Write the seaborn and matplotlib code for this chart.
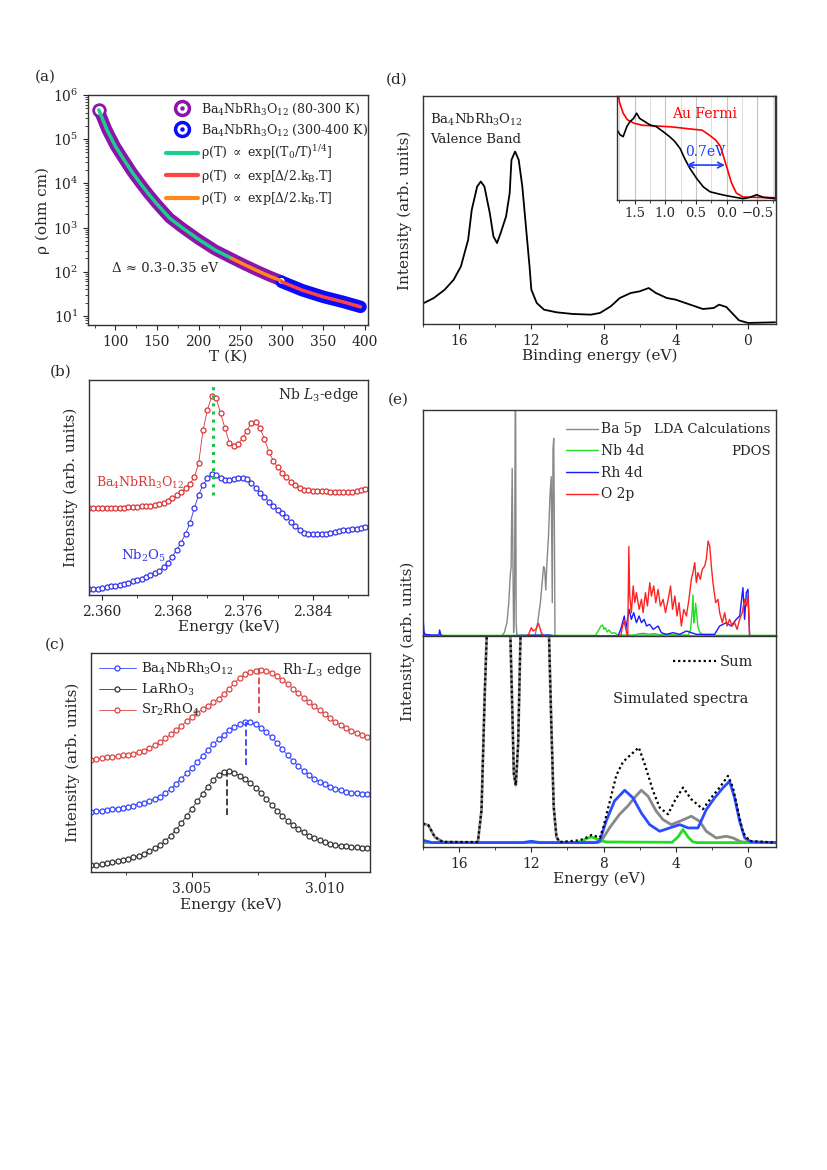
import numpy as np
import matplotlib
matplotlib.use("Agg")
import matplotlib.pyplot as plt
import seaborn as sns
from matplotlib.lines import Line2D
from matplotlib.ticker import MultipleLocator

# ---------------- data: (a) resistivity ----------------
T_low = [80, 90, 100, 110, 120, 130, 140, 150, 165, 180, 200, 220, 240, 255, 270, 285, 300]
rho_low = [4.6e5, 1.6e5, 6.9e4, 3.5e4, 1.8e4, 1.0e4, 5.7e3, 3.4e3, 1.65e3, 1.0e3,
           540, 310, 200, 145, 107, 80, 62]
T_high = [300, 325, 350, 375, 395]
rho_high = [59, 38, 27, 20.5, 16]
T_vrh_max = 240   # green fit range 80-240 K, orange 240-300 K, red 300-400 K

# ---------------- data: (b) Nb L3 edge ----------------
E_nb = np.round(np.linspace(2.3585, 2.3900, 64), 5)
I_ba_nb = [260, 260, 260, 261, 261, 261, 262, 262, 262, 263, 264, 265, 266, 267, 268, 270,
           273, 277, 283, 290, 299, 308, 320, 333, 353, 395, 495, 555, 597, 590, 545, 500,
           457, 447, 452, 470, 493, 515, 520, 500, 467, 430, 403, 383, 367, 353, 340, 329,
           321, 316, 314, 313, 312, 312, 311, 310, 309, 309, 308, 308, 309, 311, 314, 317]
I_nb2o5 = [17, 18, 19, 21, 23, 26, 28, 31, 34, 37, 41, 45, 49, 53, 59, 65,
           73, 83, 97, 115, 135, 157, 183, 215, 260, 300, 330, 350, 363, 360, 350, 345,
           345, 347, 350, 350, 347, 337, 320, 305, 293, 280, 267, 255, 245, 235, 220, 207,
           195, 187, 183, 182, 182, 182, 183, 185, 189, 193, 195, 195, 197, 199, 202, 205]
nb_peak_E = 2.37265
nb_peak_span = [300, 635]

# ---------------- data: (c) Rh L3 edge ----------------
E_rh = np.round(np.linspace(3.0012, 3.0116, 53), 5)
I_ba_rh = [182, 183, 185, 187, 189, 191, 194, 197, 200, 204, 208, 213, 220, 227, 237, 250,
           265, 281, 297, 313, 331, 350, 367, 384, 399, 413, 426, 437, 445, 451, 451, 444,
           433, 420, 405, 388, 369, 352, 335, 319, 305, 292, 281, 272, 264, 257, 251, 246,
           242, 239, 237, 235, 234]
I_larho = [20, 22, 24, 26, 29, 32, 35, 39, 44, 49, 54, 62, 71, 81, 93, 109,
           127, 147, 169, 191, 213, 235, 257, 277, 292, 301, 304, 298, 289, 279, 267, 254,
           237, 220, 202, 185, 169, 154, 141, 129, 119, 109, 101, 95, 89, 85, 82, 79,
           77, 75, 74, 73, 72]
I_sr2rho4 = [337, 339, 342, 345, 347, 349, 351, 353, 356, 360, 365, 372, 381, 391, 402, 414,
             427, 440, 453, 467, 479, 490, 500, 511, 522, 535, 552, 569, 584, 595, 602, 606,
             607, 605, 600, 591, 579, 566, 552, 539, 525, 511, 498, 486, 474, 462, 452, 442,
             433, 425, 418, 412, 406]
rh_peak_E = [3.00705, 3.00632, 3.00753]
rh_peak_lo = [322, 172, 479]
rh_peak_hi = [452, 302, 617]

# ---------------- data: (d) valence band ----------------
E_vb = [17.95, 17.4, 16.8, 16.3, 15.9, 15.7, 15.5, 15.3, 15.0, 14.8, 14.6, 14.3, 14.1, 13.9,
        13.7, 13.4, 13.2, 13.1, 12.9, 12.7, 12.5, 12.3, 12.1, 12.0, 11.7, 11.3, 10.6, 9.7,
        8.7, 8.2, 7.6, 7.1, 6.5, 6.0, 5.5, 5.1, 4.5, 4.0, 3.2, 2.5, 1.9, 1.6, 1.2, 0.8, 0.5,
        0.0, -1.5]
I_vb = [63, 78, 103, 133, 173, 213, 253, 343, 413, 428, 413, 333, 263, 243,
        273, 323, 393, 493, 518, 493, 413, 293, 173, 103, 63, 43, 35, 30,
        28, 33, 53, 78, 93, 98, 108, 93, 78, 73, 58, 45, 48, 58, 51, 28, 11,
        3, 5]
E_au = [1.79, 1.75, 1.69, 1.62, 1.51, 1.37, 1.16, 0.89, 0.61, 0.40, 0.29, 0.18, 0.10, 0.0,
        -0.08, -0.16, -0.27, -0.47, -0.79]
I_au = [345, 300, 266, 246, 235, 229, 227, 224, 218, 214, 200, 184, 164, 102,
        52, 21, 9, 8, 7]
E_vbz = [1.79, 1.74, 1.69, 1.63, 1.58, 1.52, 1.47, 1.42, 1.36, 1.25, 1.15, 1.04, 0.93, 0.85,
         0.76, 0.68, 0.60, 0.49, 0.38, 0.27, 0.12, 0.0, -0.15, -0.27, -0.38, -0.49, -0.60,
         -0.71, -0.79]
I_vbz = [215, 200, 194, 225, 240, 250, 266, 250, 243, 230, 225, 210, 194, 180,
         158, 125, 97, 66, 40, 25, 18, 13, 8, 4, 8, 16, 8,
         6, 4]
gap_from, gap_to, gap_level = 0.654, 0.027, 107

# ---------------- data: (e) PDOS ----------------
E_ba5p = [18.0, 13.65, 13.5, 13.35, 13.25, 13.17, 13.12, 13.06, 13.02, 12.98, 12.93, 12.88,
          12.84, 12.8, 11.8, 11.65, 11.5, 11.4, 11.32, 11.26, 11.2, 11.14, 11.05, 10.97,
          10.9, 10.84, 10.8, 10.76, 10.72, 10.69, 6.4, 6.1, 5.8, 5.5, 5.2, 4.8, 4.4, 4.0,
          3.0, -1.55]
D_ba5p = [0, 0, 10, 40, 100, 180, 208, 503, 220, 10, 120, 900,
          40, 0, 0, 40, 100, 160, 208, 200, 138, 215, 300, 418,
          478, 100, 560, 593, 300, 0, 0, 6, 8, 5, 7, 3, 5, 2,
          0, 0]
E_nb4d = [18.0, 8.45, 8.3, 8.15, 8.06, 7.98, 7.9, 7.8, 7.7, 7.55, 7.4, 7.2, 3.3, 3.18, 3.1,
          3.05, 3.0, 2.95, 2.9, 2.85, 2.78, 2.7, 2.55, 2.4, -1.55]
D_nb4d = [2, 2, 15, 30, 33, 20, 25, 12, 18, 8, 10, 3, 3, 20, 70,
          123, 40, 60, 98, 70, 30, 15, 5, 2, 2]
E_rh4d = [18.0, 17.95, 17.9, 17.5, 17.12, 17.08, 17.02, 16.9, 13.5, 12.6, 11.0, 10.7, 7.2,
          7.05, 6.95, 6.85, 6.77, 6.58, 6.46, 6.33, 6.18, 6.03, 5.9, 5.75, 5.62, 5.45, 5.25,
          4.98, 4.8, 4.52, 4.15, 3.78, 3.41, 3.14, 2.86, 2.31, 1.85, 1.57, 1.2, 0.93, 0.65,
          0.46, 0.28, 0.19, 0.09, 0.0, -0.09, -1.55]
D_rh4d = [58, 15, 5, 3, 3, 18, 5, 0, 0, 2, 3, 0, 0,
          20, 40, 60, 20, 80, 50, 70, 40, 60, 40, 50, 30, 35, 20,
          30, 10, 5, 10, 5, 15, 10, 5, 5, 5, 30, 40, 30, 50,
          60, 145, 50, 130, 140, 0, 0]
E_o2p = [18.0, 12.3, 12.15, 12.0, 11.9, 11.75, 11.6, 11.45, 11.3, 7.2, 7.05, 6.95, 6.85,
         6.72, 6.66, 6.6, 6.55, 6.46, 6.36, 6.27, 6.18, 6.03, 5.90, 5.81, 5.68, 5.57, 5.44,
         5.35, 5.22, 5.11, 4.98, 4.85, 4.70, 4.57, 4.42, 4.29, 4.18, 4.05, 3.93, 3.82, 3.69,
         3.56, 3.41, 3.27, 3.14, 3.05, 2.95, 2.86, 2.77, 2.64, 2.53, 2.40, 2.31, 2.21, 2.12,
         2.03, 1.94, 1.79, 1.66, 1.57, 1.42, 1.29, 1.16, 1.02, 0.87, 0.74, 0.61, 0.46, 0.32,
         0.19, 0.09, 0.0, -0.09, -1.55]
D_o2p = [0, 0, 5, 25, 15, 20, 38, 10, 0, 0, 0, 28, 48,
         8, 0, 268, 120, 70, 150, 100, 130, 80, 110, 70, 130, 90, 160,
         120, 150, 100, 140, 90, 110, 70, 110, 150, 80, 120, 60, 100, 30,
         80, 60, 110, 170, 190, 220, 160, 190, 170, 200, 210, 230, 285, 270,
         210, 160, 100, 110, 70, 40, 70, 30, 50, 30, 40, 20, 50, 70,
         110, 90, 120, 0, 0]

# ---------------- data: (e) simulated spectra ----------------
E_sum = [18.0, 17.7, 17.35, 16.9, 15.0, 14.95, 14.76, 14.58, 14.43, 14.2, 13.5, 13.16, 13.05,
         12.97, 12.86, 12.73, 12.6, 12.3, 11.3, 11.02, 10.89, 10.76, 10.61, 10.43, 9.32, 8.95,
         8.67, 8.3, 8.21, 8.03, 7.66, 7.29, 6.92, 6.46, 6.05, 5.72, 5.26, 4.89, 4.43, 4.06,
         3.6, 3.14, 2.5, 2.03, 1.57, 1.11, 0.83, 0.55, 0.28, -0.09, -1.55]
S_sum = [70, 65, 30, 15, 15, 20, 110, 460, 700, 1000, 1000, 632, 400,
         220, 185, 310, 632, 1000, 1000, 632, 360, 120, 30, 15, 20, 28,
         36, 30, 28, 55, 135, 215, 255, 278, 298, 248, 168, 118, 98, 138,
         178, 143, 113, 148, 178, 213, 178, 108, 43, 18, 13]
E_ba_sim = [18.0, 17.7, 17.35, 16.9, 15.0, 14.95, 14.76, 14.58, 14.43, 14.2, 13.5, 13.16, 13.05,
            12.97, 12.86, 12.73, 12.6, 12.3, 11.3, 11.02, 10.89, 10.76, 10.61, 10.43, 8.3, 8.12,
            7.66, 7.11, 6.65, 6.28, 5.91, 5.54, 5.08, 4.71, 4.25, 3.78, 3.14, 2.68, 2.31, 1.76,
            1.2, 0.83, 0.37, -1.55]
S_ba_sim = [70, 65, 30, 15, 13, 20, 110, 460, 700, 1000, 1000, 632, 400,
            220, 185, 310, 632, 1000, 1000, 632, 360, 120, 30, 13, 13, 18,
            58, 98, 123, 148, 170, 152, 107, 82, 67, 77, 92, 77, 47, 27,
            32, 27, 15, 13]
E_rh_sim = [18.0, 17.5, 12.5, 12.0, 11.5, 8.5, 8.21, 7.85, 7.39, 6.83, 6.37, 5.91, 5.45, 4.89,
            4.34, 3.78, 3.32, 2.77, 2.31, 1.85, 1.39, 1.02, 0.74, 0.46, 0.18, -0.18, -1.55]
S_rh_sim = [20, 13, 13, 17, 13, 13, 18, 78, 138, 170, 147, 102, 67, 47,
            57, 67, 57, 57, 112, 147, 177, 197, 147, 77, 27, 15, 13]
E_nb_sim = [18.0, 9.5, 9.14, 8.95, 8.67, 8.4, 8.21, 7.85, 4.2, 3.88, 3.6, 3.32, 3.05, 2.8, -1.55]
S_nb_sim = [13, 13, 18, 25, 30, 25, 20, 15, 14, 30, 52, 30, 15, 13, 13]

# ---------------- style ----------------
sns.set_style("ticks")
plt.rcParams['font.family'] = ['DejaVu Serif', 'DejaVu Sans']
plt.rcParams['mathtext.fontset'] = 'dejavuserif'
plt.rcParams['font.size'] = 10
plt.rcParams['xtick.direction'] = 'out'
plt.rcParams['ytick.direction'] = 'out'
plt.rcParams['axes.edgecolor'] = '#333333'
plt.rcParams['axes.linewidth'] = 1.0

BA = 'Ba$_4$NbRh$_3$O$_{12}$'
fig = plt.figure(figsize=(8.27, 11.7), dpi=100)


def fx(px):
    return px / 827


def fy(py):
    return 1 - py / 1170


# ---------------- (a) ----------------
purple, blue_a = '#8c14aa', '#0a0aff'
green_a, red_a, orange_a = '#1ccf8a', '#ff4444', '#ff8a1a'
ax = fig.add_axes([0.1064, 0.7222, 0.3386, 0.1966])
sns.lineplot(x=T_low, y=rho_low, color=purple, lw=8, ax=ax, sort=False, estimator=None,
             solid_capstyle='round', zorder=2)
sns.lineplot(x=T_high, y=rho_high, color=blue_a, lw=9, ax=ax, sort=False, estimator=None,
             solid_capstyle='round', zorder=2)
ax.scatter(T_low[0], rho_low[0], s=70, facecolor='white', edgecolor=purple, lw=2, zorder=3)
ax.scatter(T_low[-1], rho_low[-1], s=18, facecolor='white', edgecolor='none', zorder=3)
i_fit = T_low.index(T_vrh_max)
sns.lineplot(x=T_low[:i_fit + 1], y=rho_low[:i_fit + 1], color=green_a, lw=2.5, ax=ax,
             sort=False, estimator=None, zorder=4)
sns.lineplot(x=T_low[i_fit:], y=rho_low[i_fit:], color=orange_a, lw=2.5, ax=ax,
             sort=False, estimator=None, zorder=4)
sns.lineplot(x=T_high, y=rho_high, color=red_a, lw=2.5, ax=ax, sort=False, estimator=None,
             zorder=4)
ax.set_yscale('log')
ax.set_xlim(67, 404)
ax.set_ylim(6.2, 1e6)
ax.xaxis.set_major_locator(MultipleLocator(50))
ax.xaxis.set_minor_locator(MultipleLocator(25))
ax.set_xlabel('T (K)', fontsize=11, labelpad=1)
ax.set_ylabel('ρ (ohm cm)', fontsize=11, labelpad=2)
ax.tick_params(labelsize=10)
ax.text(0.086, 0.23, 'Δ ≈ 0.3-0.35 eV', transform=ax.transAxes, fontsize=9.5)


def ring(c):
    return (Line2D([], [], ls='none', marker='o', ms=10, mfc='white', mec=c, mew=2.5),
            Line2D([], [], ls='none', marker='o', ms=2.2, color=c))


handles = [ring(purple), ring(blue_a),
           Line2D([], [], color=green_a, lw=3), Line2D([], [], color=red_a, lw=3),
           Line2D([], [], color=orange_a, lw=3)]
labels = [BA + ' (80-300 K)', BA + ' (300-400 K)',
          r'ρ(T) $\propto$ exp[(T$_0$/T)$^{1/4}$]',
          r'ρ(T) $\propto$ exp[Δ/2.k$_{\rm B}$.T]',
          r'ρ(T) $\propto$ exp[Δ/2.k$_{\rm B}$.T]']
ax.legend(handles, labels, loc='upper right', bbox_to_anchor=(1.04, 1.02), frameon=False,
          fontsize=9, handlelength=2.6, handletextpad=0.2, labelspacing=0.45)
fig.text(fx(45), fy(77), '(a)', fontsize=11, ha='center', va='center')

# ---------------- (b) ----------------
red_b, blue_b = '#dd3333', '#3333ee'
ax = fig.add_axes([0.1076, 0.4915, 0.3374, 0.1838])
mk = dict(marker='o', ms=3.6, mfc='white', mew=0.9, lw=0.6)
sns.lineplot(x=E_nb, y=I_ba_nb, color=red_b, mec=red_b, ax=ax, sort=False, estimator=None, **mk)
sns.lineplot(x=E_nb, y=I_nb2o5, color=blue_b, mec=blue_b, ax=ax, sort=False, estimator=None, **mk)
ax.plot([nb_peak_E, nb_peak_E], nb_peak_span, ls=':', color='#22c24a', lw=2.2, zorder=5)
ax.set_xlim(2.3585, 2.3903)
ax.set_ylim(0, 645)
ax.set_yticks([])
ax.xaxis.set_major_locator(MultipleLocator(0.008))
ax.xaxis.set_minor_locator(MultipleLocator(0.004))
ax.xaxis.set_major_formatter(matplotlib.ticker.FormatStrFormatter('%.3f'))
ax.tick_params(labelsize=10)
ax.set_xlabel('Energy (keV)', fontsize=11, labelpad=1)
ax.set_ylabel('Intensity (arb. units)', fontsize=11, labelpad=8)
ax.text(0.97, 0.93, 'Nb $L_3$-edge', transform=ax.transAxes, ha='right', va='center', fontsize=10)
ax.text(0.025, 0.52, BA, transform=ax.transAxes, color=red_b, fontsize=9, va='center')
ax.text(0.115, 0.18, 'Nb$_2$O$_5$', transform=ax.transAxes, color=blue_b, fontsize=9.5, va='center')
fig.text(fx(61), fy(372), '(b)', fontsize=11, ha='center', va='center')

# ---------------- (c) ----------------
blue_c, black_c, red_c = '#3344ff', '#333333', '#dd4444'
ax = fig.add_axes([0.1100, 0.2547, 0.3374, 0.1872])
series_c = [(I_ba_rh, blue_c, BA), (I_larho, black_c, 'LaRhO$_3$'), (I_sr2rho4, red_c, 'Sr$_2$RhO$_4$')]
for vals, c, lab in series_c:
    sns.lineplot(x=E_rh, y=vals, color=c, mec=c, ax=ax, sort=False, estimator=None,
                 label=lab, **mk)
for e, lo, hi, c in zip(rh_peak_E, rh_peak_lo, rh_peak_hi, [blue_c, black_c, red_c]):
    ax.plot([e, e], [lo, hi], ls='--', color=c, lw=1.3, zorder=5)
ax.set_xlim(3.0012, 3.0117)
ax.set_ylim(0, 659)
ax.set_yticks([])
ax.xaxis.set_major_locator(MultipleLocator(0.005))
ax.xaxis.set_minor_locator(MultipleLocator(0.0025))
ax.xaxis.set_major_formatter(matplotlib.ticker.FormatStrFormatter('%.3f'))
ax.tick_params(labelsize=10)
ax.set_xlabel('Energy (keV)', fontsize=11, labelpad=1)
ax.set_ylabel('Intensity (arb. units)', fontsize=11, labelpad=8)
ax.legend(loc='upper left', frameon=False, fontsize=9.5, handlelength=2.8,
          handletextpad=0.4, labelspacing=0.35, borderaxespad=0.2)
ax.text(0.97, 0.92, 'Rh-$L_3$ edge', transform=ax.transAxes, ha='right', va='center', fontsize=10)
fig.text(fx(55), fy(645), '(c)', fontsize=11, ha='center', va='center')

# ---------------- (d) ----------------
ax = fig.add_axes([0.5115, 0.7231, 0.4268, 0.1949])
sns.lineplot(x=E_vb, y=I_vb, color='black', lw=1.3, ax=ax, sort=False, estimator=None)
ax.set_xlim(18, -1.55)
ax.set_ylim(0, 685)
ax.set_yticks([])
ax.xaxis.set_major_locator(MultipleLocator(4))
ax.xaxis.set_minor_locator(MultipleLocator(2))
ax.tick_params(labelsize=10)
ax.set_xlabel('Binding energy (eV)', fontsize=11, labelpad=1)
ax.set_ylabel('Intensity (arb. units)', fontsize=11, labelpad=8)
ax.text(0.02, 0.895, BA, transform=ax.transAxes, fontsize=9.5, va='center')
ax.text(0.02, 0.81, 'Valence Band', transform=ax.transAxes, fontsize=9.5, va='center')
fig.text(fx(397), fy(80), '(d)', fontsize=11, ha='center', va='center')

axi = fig.add_axes([0.7461, 0.8291, 0.191, 0.0889])
axi.xaxis.set_major_locator(MultipleLocator(0.5))
axi.xaxis.set_minor_locator(MultipleLocator(0.25))
axi.grid(True, which='major', axis='x', color='#c4c4c4', lw=0.8)
axi.grid(True, which='minor', axis='x', color='#dedede', lw=0.7)
sns.lineplot(x=E_au, y=I_au, color='#ff0000', lw=1.2, ax=axi, sort=False, estimator=None)
sns.lineplot(x=E_vbz, y=I_vbz, color='black', lw=1.2, ax=axi, sort=False, estimator=None)
axi.annotate('', xy=(gap_to, gap_level), xytext=(gap_from, gap_level),
             arrowprops=dict(arrowstyle='<->', color='#1a3cff', lw=1.2, shrinkA=0, shrinkB=0))
axi.text(0.35, gap_level + 18, '0.7eV', color='#1a3cff', fontsize=10, ha='center', va='bottom')
axi.text(0.36, 264, 'Au Fermi', color='#ff0000', fontsize=10, ha='center', va='center')
axi.set_xlim(1.79, -0.79)
axi.set_ylim(0, 319)
axi.set_yticks([])
axi.xaxis.set_major_formatter(matplotlib.ticker.FuncFormatter(
    lambda v, p: ('%.1f' % v).replace('-', '\u2212')))
axi.tick_params(labelsize=9.5, length=3, pad=2)
axi.tick_params(which='minor', length=2)
axi.set_axisbelow(True)

# ---------------- (e) top: PDOS ----------------
c_ba, c_nb, c_rh, c_o = '#888888', '#22dd22', '#1a1aff', '#ff2222'
ax = fig.add_axes([0.5115, 0.4564, 0.4268, 0.1932])
pdos = [(E_ba5p, D_ba5p, c_ba, 'Ba 5p'), (E_nb4d, D_nb4d, c_nb, 'Nb 4d'),
        (E_rh4d, D_rh4d, c_rh, 'Rh 4d'), (E_o2p, D_o2p, c_o, 'O 2p')]
for e, d, c, lab in pdos:
    sns.lineplot(x=e, y=d, color=c, lw=1.0, ax=ax, sort=False, estimator=None, label=lab)
ax.set_xlim(18, -1.55)
ax.set_ylim(0, 678)
ax.set_xticks([])
ax.set_yticks([])
ax.legend(loc='upper left', bbox_to_anchor=(0.37, 1.0), frameon=False, fontsize=10,
          handlelength=2.3, handletextpad=0.2, labelspacing=0.55)
ax.text(0.985, 0.915, 'LDA Calculations', transform=ax.transAxes, ha='right', va='center', fontsize=9.5)
ax.text(0.985, 0.815, 'PDOS', transform=ax.transAxes, ha='right', va='center', fontsize=9.5)
fig.text(fx(398), fy(400), '(e)', fontsize=11, ha='center', va='center')

# ---------------- (e) bottom: simulated ----------------
ax = fig.add_axes([0.5115, 0.2761, 0.4268, 0.1803])
sns.lineplot(x=E_ba_sim, y=S_ba_sim, color=c_ba, lw=2, ax=ax, sort=False, estimator=None)
sns.lineplot(x=E_nb_sim, y=S_nb_sim, color=c_nb, lw=2, ax=ax, sort=False, estimator=None)
sns.lineplot(x=E_rh_sim, y=S_rh_sim, color='#2a4cff', lw=2, ax=ax, sort=False, estimator=None)
sns.lineplot(x=E_sum, y=S_sum, color='black', lw=1.6, ls=(0, (1, 1.3)), ax=ax, sort=False,
             estimator=None, label='Sum')
ax.set_xlim(18, -1.55)
ax.set_ylim(0, 632)
ax.set_yticks([])
ax.xaxis.set_major_locator(MultipleLocator(4))
ax.xaxis.set_minor_locator(MultipleLocator(2))
ax.tick_params(labelsize=10)
ax.set_xlabel('Energy (eV)', fontsize=11, labelpad=1)
ax.legend(loc='center left', bbox_to_anchor=(0.67, 0.877), frameon=False, fontsize=10.5,
          handlelength=3.0, handletextpad=0.2)
ax.text(0.73, 0.70, 'Simulated spectra', transform=ax.transAxes, ha='center', va='center', fontsize=10.5)
fig.text(fx(408), fy(641), 'Intensity (arb. units)', rotation=90, fontsize=11,
         ha='center', va='center')

fig.savefig('out.png', dpi=100)
